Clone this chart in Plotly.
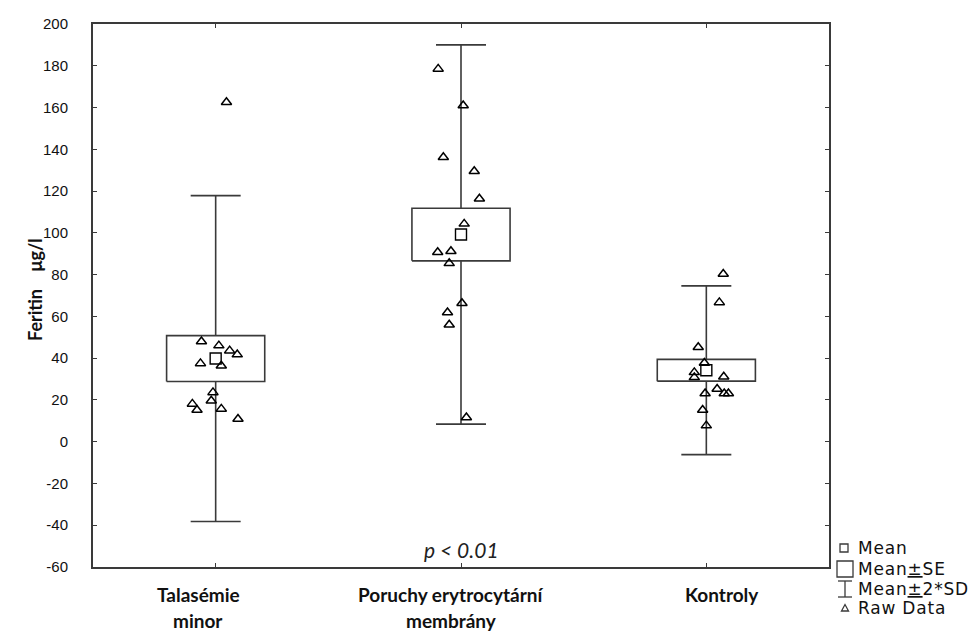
import plotly.graph_objects as go

# --- data -------------------------------------------------------------
label_lines = [["Talasémie", "minor"], ["Poruchy erytrocytární", "membrány"], ["Kontroly"]]
label_shift = [-0.07, -0.04, 0.065]  # horizontal nudge of each group caption

means = [39.8, 99.2, 34.2]
std_errors = [11.0, 12.6, 5.2]
std_devs = [39.0, 45.4, 20.2]

raw_talasemie = [162.5, 48.0, 46.0, 43.6, 41.7, 37.5, 36.4, 23.6, 19.6, 18.1, 15.2, 15.7, 10.9]
jit_talasemie = [0.044, -0.058, 0.013, 0.057, 0.088, -0.062, 0.023, -0.011, -0.018, -0.095, -0.076, 0.023, 0.091]
raw_poruchy = [178.5, 161.0, 136.2, 129.5, 116.3, 104.3, 90.7, 91.2, 85.4, 66.3, 61.9, 56.0, 11.6]
jit_poruchy = [-0.093, 0.009, -0.072, 0.054, 0.075, 0.013, -0.095, -0.041, -0.048, 0.004, -0.055, -0.048, 0.022]
raw_kontroly = [80.3, 66.7, 45.2, 37.7, 33.2, 30.8, 31.1, 25.2, 23.1, 23.1, 23.1, 15.2, 7.7]
jit_kontroly = [0.069, 0.053, -0.033, -0.008, -0.049, -0.049, 0.071, 0.044, -0.005, 0.073, 0.090, -0.015, 0.0]

y_ticks = list(range(-60, 201, 20))
y_tick_text = [str(v) for v in y_ticks]
y_title = "Feritin\u00a0\u00a0\u00a0\u00a0μg/l"
p_text = "<i>p < 0.01</i>"
legend_labels = ["Mean", "Mean<u>±</u>SE", "Mean<u>±</u>2*SD", "Raw Data"]

# --- layout constants ---------------------------------------------------
W, H = 979, 636
ML, MR, MT, MB = 93, 150, 24, 69
PW, PH = W - ML - MR, H - MT - MB
INK = "#3a3a3a"
BOX_HALF = 0.2


def px_x(px):
    return (px - ML) / PW


def px_y(py):
    return (H - MB - py) / PH


fig = go.Figure()
cats = [0, 1, 2]

# whiskers: mean ± 2*SD
fig.add_trace(go.Scatter(
    x=cats, y=means, mode="markers",
    marker=dict(size=1, color="rgba(0,0,0,0)"),
    error_y=dict(type="data", array=[2 * s for s in std_devs], width=25,
                 thickness=1.6, color=INK),
    hoverinfo="skip", showlegend=False))

# boxes: mean ± SE
for c, m, se in zip(cats, means, std_errors):
    fig.add_trace(go.Scatter(
        x=[c - BOX_HALF, c + BOX_HALF, c + BOX_HALF, c - BOX_HALF, c - BOX_HALF],
        y=[m - se, m - se, m + se, m + se, m - se],
        mode="lines", fill="toself", fillcolor="white",
        line=dict(color=INK, width=1.6), hoverinfo="skip", showlegend=False))

# raw observations
for c, vals, jit in [(0, raw_talasemie, jit_talasemie),
                     (1, raw_poruchy, jit_poruchy),
                     (2, raw_kontroly, jit_kontroly)]:
    fig.add_trace(go.Scatter(
        x=[c + j for j in jit], y=vals, mode="markers",
        marker=dict(symbol="triangle-up-open", size=9, color="black",
                    line=dict(width=1.5, color="black")),
        showlegend=False))

# group means
fig.add_trace(go.Scatter(
    x=cats, y=means, mode="markers",
    marker=dict(symbol="square-open", size=11, color="black",
                line=dict(width=1.4, color="black")),
    showlegend=False))

ann = []
label_font = dict(family="Lato", size=19, color="#111")
line_y = [594, 620]
for c, lines, dx in zip(cats, label_lines, label_shift):
    for ly, txt in zip(line_y, lines):
        ann.append(dict(x=c + dx, xref="x", y=px_y(ly), yref="paper",
                        text="<b>" + txt + "</b>", showarrow=False,
                        font=label_font, xanchor="center", yanchor="middle"))

ann.append(dict(x=1, xref="x", y=px_y(549), yref="paper", text=p_text,
                showarrow=False, font=dict(family="Lato", size=21, color="#222"),
                xanchor="center", yanchor="middle"))

ann.append(dict(x=px_x(35), xref="paper", y=px_y(290), yref="paper",
                text="<b>" + y_title + "</b>", textangle=-90, showarrow=False,
                font=dict(family="Lato", size=18, color="#111"),
                xanchor="center", yanchor="middle"))

# custom key in the lower-right corner
shapes = []
rows_y = [548, 569, 589, 608]
text_x = 856
key_font = dict(family="DejaVu Sans", size=17, color="#111")
for ry, lab in zip(rows_y, legend_labels):
    ann.append(dict(x=px_x(text_x), xref="paper", y=px_y(ry), yref="paper",
                    text='<span style="letter-spacing:0.8px">' + lab + "</span>",
                    showarrow=False, font=key_font,
                    xanchor="left", yanchor="middle"))

line_k = dict(color=INK, width=1.3)
# small square
shapes.append(dict(type="rect", xref="paper", yref="paper",
                   x0=px_x(840), x1=px_x(848), y0=px_y(552), y1=px_y(544),
                   line=line_k))
# big box
shapes.append(dict(type="rect", xref="paper", yref="paper",
                   x0=px_x(837), x1=px_x(853), y0=px_y(577), y1=px_y(561),
                   line=line_k))
# I-beam
cx = 845
shapes.append(dict(type="line", xref="paper", yref="paper",
                   x0=px_x(cx), x1=px_x(cx), y0=px_y(581), y1=px_y(597), line=line_k))
shapes.append(dict(type="line", xref="paper", yref="paper",
                   x0=px_x(838), x1=px_x(852), y0=px_y(581), y1=px_y(581), line=line_k))
shapes.append(dict(type="line", xref="paper", yref="paper",
                   x0=px_x(838), x1=px_x(852), y0=px_y(597), y1=px_y(597), line=line_k))
# small triangle
tx, ty = 845, 608
path = "M {} {} L {} {} L {} {} Z".format(
    px_x(tx - 3.5), px_y(ty + 3), px_x(tx + 3.5), px_y(ty + 3), px_x(tx), px_y(ty - 3.5))
shapes.append(dict(type="path", xref="paper", yref="paper", path=path, line=line_k))

axis_common = dict(showline=True, linecolor=INK, linewidth=2, mirror="ticks",
                   ticks="inside", ticklen=4, tickwidth=1.2, tickcolor=INK,
                   showgrid=False, zeroline=False)

fig.update_layout(
    width=W, height=H,
    margin=dict(l=ML, r=MR, t=MT, b=MB, autoexpand=False),
    plot_bgcolor="white", paper_bgcolor="white",
    xaxis=dict(range=[-0.5, 2.5], tickvals=cats, showticklabels=False, **axis_common),
    yaxis=dict(range=[-60, 200], tickvals=y_ticks, ticktext=y_tick_text,
               ticklabelstandoff=20,
               tickfont=dict(family="Liberation Sans", size=15, color="#111"),
               **axis_common),
    annotations=ann, shapes=shapes, showlegend=False,
)

fig.write_html("out.html")
